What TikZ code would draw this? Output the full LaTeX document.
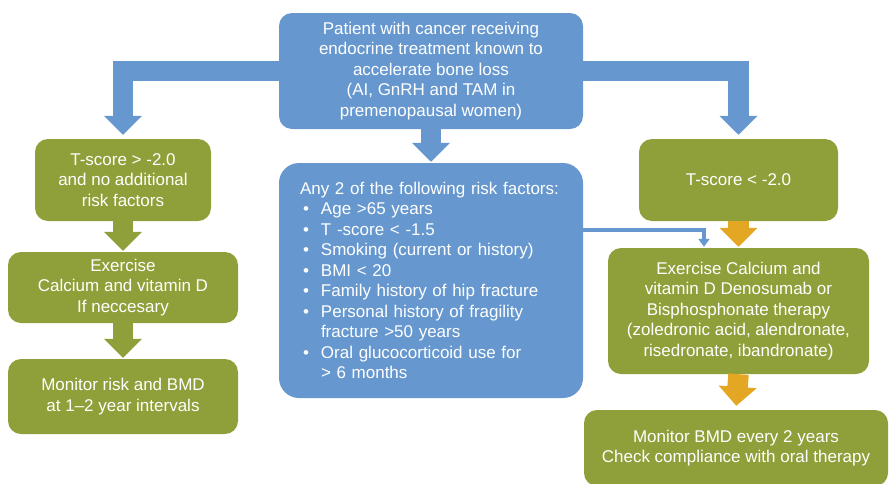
\documentclass[tikz,border=0pt]{standalone}
\usepackage{fontspec}
\setmainfont{Liberation Sans}
\usetikzlibrary{arrows.meta}
\definecolor{boneblue}{RGB}{102,152,207}
\definecolor{bonegreen}{RGB}{143,160,58}
\definecolor{boneorange}{RGB}{228,167,36}
\newcommand\riskitem{\hspace*{3pt}\makebox[18pt][l]{\textbullet}}
\begin{document}
\begin{tikzpicture}[x=1pt, y=-1pt,
  every node/.style={font=\fontsize{17}{20.5}\selectfont, text=white, inner sep=0pt, align=center},
  box/.style={fill=#1, rounded corners=13pt},
  bigarrow/.style={draw=#1, line width=20.5pt, -{Triangle[width=37pt,length=19pt]}, shorten >=4pt}]
  \useasboundingbox (0,0) rectangle (889,483);
  \clip (0,0) rectangle (889,483);
  \node[box=boneblue, minimum width=304pt, minimum height=116pt] (top) at (431,71)
    {Patient with cancer receiving\\endocrine treatment known to\\accelerate bone loss\\(AI, GnRH and TAM in\\premenopausal women)};
  \node[box=boneblue, rounded corners=20pt, minimum width=304pt, minimum height=235pt, text width=262pt, align=left] (risk) at (431,280.5)
    {Any 2 of the following risk factors:\\
     \riskitem Age >65 years\\
     \riskitem T -score < -1.5\\
     \riskitem Smoking (current or history)\\
     \riskitem BMI < 20\\
     \riskitem Family history of hip fracture\\
     \riskitem Personal history of fragility\\
     \hspace*{21pt}fracture >50 years\\
     \riskitem Oral glucocorticoid use for\\
     \hspace*{21pt}> 6 months};
  \node[box=bonegreen, minimum width=176pt, minimum height=82pt] (lowt) at (123,180)
    {T-score > -2.0\\and no additional\\risk factors};
  \node[box=bonegreen, minimum width=230pt, minimum height=71pt] (care) at (123,287.5)
    {Exercise\\Calcium and vitamin D\\If neccesary};
  \node[box=bonegreen, minimum width=230pt, minimum height=75pt] (watch) at (123,396.5)
    {Monitor risk and BMD\\at 1--2 year intervals};
  \node[box=bonegreen, minimum width=199pt, minimum height=82pt] (hight) at (738.5,180)
    {T-score < -2.0};
  \node[box=bonegreen, minimum width=261pt, minimum height=126pt] (treat) at (738.5,311)
    {Exercise Calcium and\\vitamin D Denosumab or\\Bisphosphonate therapy\\(zoledronic acid, alendronate,\\risedronate, ibandronate)};
  \node[box=bonegreen, minimum width=304pt, minimum height=76pt] (follow) at (736,448)
    {Monitor BMD every 2 years\\Check compliance with oral therapy};
  \coordinate (bend) at (704,230);
  \draw[bigarrow=boneblue] (top.west) -| (lowt.north);
  \draw[bigarrow=boneblue] (top.east) -| (hight.north);
  \draw[bigarrow=boneblue, shorten >=1pt] (top.south) -- (risk.north);
  \draw[bigarrow=bonegreen, shorten >=1pt] (lowt.south) -- (care.north);
  \draw[bigarrow=bonegreen, shorten >=1pt] (care.south) -- (watch.north);
  \draw[bigarrow=boneorange, shorten >=1pt] (hight.south) -- (treat.north);
  \draw[bigarrow=boneorange] (treat.south) -- (follow.north);
  \draw[draw=boneblue, line width=4pt, -{Triangle[width=11pt,length=8pt]}, shorten >=1pt]
    (risk.east |- bend) -- (bend) -- (bend |- treat.north);
\end{tikzpicture}
\end{document}
